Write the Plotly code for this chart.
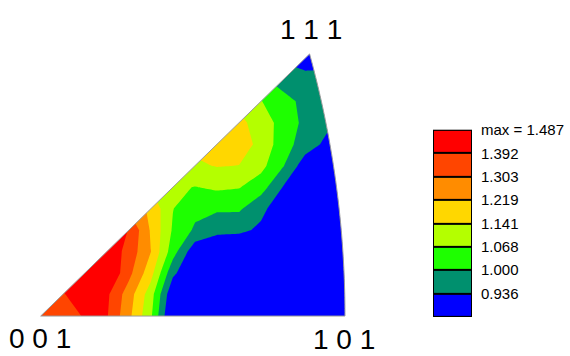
import numpy as np
import plotly.graph_objects as go

# ---------------- data ----------------
GRID_X = [0.00, 0.03, 0.06, 0.09, 0.12, 0.15, 0.18, 0.21, 0.24, 0.27, 0.30, 0.33, 0.36, 0.39, 0.42]
GRID_Y = [0.00, 0.03, 0.06, 0.09, 0.12, 0.15, 0.18, 0.21, 0.24, 0.27, 0.30, 0.33, 0.36, 0.39]

Z_ROWS = [
    [1.33, 1.35, 1.40, 1.40, 1.24, 1.08, 0.85, 0.84, 0.84, 0.84, 0.84, 0.84, 0.84, 0.85, 0.85],
    [1.36, 1.385, 1.44, 1.41, 1.26, 1.10, 0.88, 0.85, 0.84, 0.84, 0.84, 0.84, 0.84, 0.85, 0.85],
    [1.40, 1.43, 1.46, 1.487, 1.33, 1.17, 0.95, 0.87, 0.86, 0.85, 0.85, 0.85, 0.85, 0.85, 0.85],
    [1.42, 1.44, 1.46, 1.46, 1.36, 1.22, 1.03, 0.89, 0.87, 0.87, 0.86, 0.86, 0.86, 0.86, 0.86],
    [1.40, 1.42, 1.43, 1.43, 1.39, 1.21, 1.06, 0.99, 0.955, 0.95, 0.925, 0.88, 0.87, 0.87, 0.87],
    [1.36, 1.36, 1.35, 1.33, 1.29, 1.20, 1.07, 1.02, 1.01, 1.01, 0.95, 0.90, 0.87, 0.87, 0.87],
    [1.22, 1.22, 1.21, 1.20, 1.19, 1.14, 1.08, 1.066, 1.08, 1.072, 1.03, 0.933, 0.88, 0.87, 0.87],
    [1.12, 1.12, 1.12, 1.12, 1.11, 1.10, 1.10, 1.13, 1.145, 1.14, 1.09, 1.005, 0.90, 0.87, 0.87],
    [1.14, 1.14, 1.14, 1.14, 1.14, 1.14, 1.15, 1.16, 1.18, 1.18, 1.12, 1.03, 0.97, 0.92, 0.90],
    [1.15, 1.15, 1.15, 1.15, 1.15, 1.15, 1.15, 1.16, 1.17, 1.16, 1.11, 1.04, 0.985, 0.95, 0.94],
    [1.10, 1.10, 1.10, 1.10, 1.10, 1.10, 1.11, 1.12, 1.12, 1.12, 1.07, 1.035, 0.975, 0.95, 0.94],
    [1.02, 1.02, 1.02, 1.02, 1.02, 1.02, 1.02, 1.02, 1.02, 1.02, 1.02, 0.96, 0.955, 0.95, 0.94],
    [0.95, 0.95, 0.95, 0.95, 0.95, 0.95, 0.95, 0.95, 0.94, 0.94, 0.94, 0.93, 0.91, 0.92, 0.92],
    [0.90, 0.90, 0.90, 0.90, 0.90, 0.90, 0.90, 0.90, 0.90, 0.90, 0.90, 0.90, 0.89, 0.90, 0.90],
]

LEVELS = [0.936, 1.000, 1.068, 1.141, 1.219, 1.303, 1.392]
MAX_VALUE = 1.487
BAND_COLORS = ["#0000FF", "#00906E", "#1EFF00", "#B4FF00", "#FFD700", "#FF8C00", "#FF4500", "#FF0000"]
LEGEND_LABELS = ["0.936", "1.000", "1.068", "1.141", "1.219", "1.303", "1.392", "max = 1.487"]

CORNER_LABELS = ["0 0 1", "1 0 1", "1 1 1"]
CORNER_DIRS = [(0, 0, 1), (1, 0, 1), (1, 1, 1)]

# ---------------- geometry helpers ----------------
def proj(u, v, w):
    n = np.sqrt(u * u + v * v + w * w)
    u, v, w = u / n, v / n, w / n
    return u / (1 + w), v / (1 + w)

corners = [proj(*d) for d in CORNER_DIRS]
arc = [proj(1.0, t, 1.0) for t in np.linspace(0, 1, 80)]

tri_path = "M {:.5f},{:.5f} ".format(*corners[0])
for (ax_, ay_) in arc:
    tri_path += "L {:.5f},{:.5f} ".format(ax_, ay_)
tri_path += "Z"

mask_path = "M -0.01,-0.01 L 0.44,-0.01 L 0.44,0.40 L -0.01,0.40 Z " + tri_path

# transform values to level-index space (non-uniform levels)
lv = np.array(LEVELS)
xp = np.concatenate([[lv[0] - 10 * (lv[1] - lv[0])], lv, [lv[-1] + 10 * (lv[-1] - lv[-2])]])
fp = np.concatenate([[-10.0], np.arange(len(lv), dtype=float), [len(lv) - 1 + 10.0]])
zi = np.interp(np.array(Z_ROWS), xp, fp)

nlev = len(LEVELS)
cscale = [[k / nlev, BAND_COLORS[k]] for k in range(nlev + 1)]

# ---------------- figure ----------------
W, H = 570, 356
S = 734.6          # px per projection unit
OX, OY = 40.7, 315  # pixel position of 001

fig = go.Figure()
fig.add_trace(go.Contour(
    x=GRID_X, y=GRID_Y, z=zi,
    autocontour=False,
    contours=dict(start=0, end=nlev - 1, size=1, coloring="fill", showlines=False),
    colorscale=cscale, showscale=False,
    line=dict(width=0, smoothing=0),
    hoverinfo="skip",
))

fig.add_trace(go.Heatmap(
    z=[[k] for k in range(nlev + 1)], x=[0], y=list(range(nlev + 1)),
    colorscale=cscale, zmin=0, zmax=nlev, showscale=False,
    xgap=2, ygap=2, xaxis="x2", yaxis="y2", hoverinfo="skip",
))

shapes = [
    dict(type="path", path=mask_path, xref="x", yref="y", fillcolor="white",
         fillrule="evenodd", line=dict(width=0), layer="above"),
    dict(type="path", path=tri_path, xref="x", yref="y",
         line=dict(color="#9a9a9a", width=1), layer="above"),
    dict(type="rect", xref="x2", yref="y2", x0=-0.5, x1=0.5, y0=-0.5, y1=nlev + 0.5,
         fillcolor="black", line=dict(color="black", width=2), layer="below"),
]

shifts = [(-0.7, -22), (-0.5, -23), (1.4, 24)]
annotations = []
for (cx, cy), lab, (sx, sy) in zip(corners, CORNER_LABELS, shifts):
    annotations.append(dict(x=cx, y=cy, xref="x", yref="y", text=lab, showarrow=False,
                            xanchor="center", yanchor="middle", xshift=sx, yshift=sy,
                            font=dict(family="Liberation Sans, Arial", size=28, color="black")))

fig.update_layout(
    width=W, height=H, autosize=False,
    margin=dict(l=0, r=0, t=0, b=0, pad=0),
    paper_bgcolor="white", plot_bgcolor="white",
    showlegend=False,
    xaxis=dict(range=[-OX / S, (W - OX) / S], domain=[0, 1], visible=False, fixedrange=True),
    yaxis=dict(range=[(OY - H) / S, OY / S], domain=[0, 1], visible=False, fixedrange=True),
    xaxis2=dict(domain=[433 / W, 472 / W], anchor="y2", range=[-0.5, 0.5], visible=False),
    yaxis2=dict(domain=[1 - 316 / H, 1 - 124 / H], anchor="x2", range=[-0.5, nlev + 0.5],
                side="right", tickmode="array",
                tickvals=[k + 0.5 for k in range(nlev + 1)], ticktext=LEGEND_LABELS,
                showgrid=False, zeroline=False, showline=False, ticks="",
                ticklabelstandoff=8,
                tickfont=dict(family="Liberation Sans, Arial", size=15, color="black")),
    shapes=shapes,
    annotations=annotations,
)

fig.write_html("out.html",
               config={"displayModeBar": False, "staticPlot": True},
               post_script="document.body.style.margin='0';document.body.style.overflow='hidden';")
